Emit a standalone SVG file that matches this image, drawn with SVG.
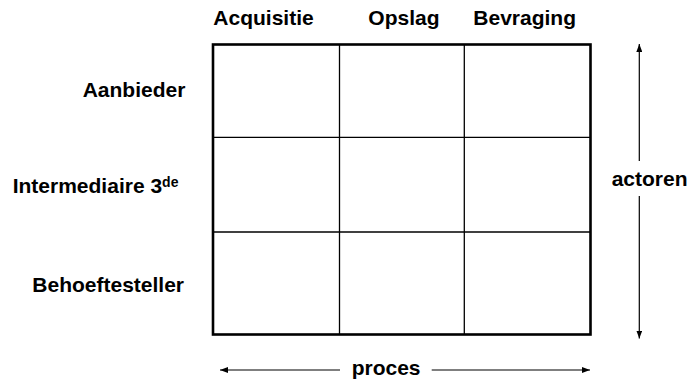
<svg xmlns="http://www.w3.org/2000/svg" width="690" height="382" viewBox="0 0 690 382">
<style>
text{font-family:"Liberation Sans",Arial,sans-serif;font-weight:bold;font-size:21px;fill:#000}
.sup{font-size:14px}
.cell{fill:#fff;stroke:#000;stroke-width:1.3}
.frame{fill:none;stroke:#000;stroke-width:2.6}
.conn{stroke:#000;stroke-width:1.2;fill:none}
</style>
<defs>
<marker id="ah" viewBox="0 0 8 6" refX="8" refY="3" markerWidth="8" markerHeight="6" markerUnits="userSpaceOnUse" orient="auto">
<path d="M0,0 L8,3 L0,6 Z" fill="#000"/>
</marker>
</defs>
<rect width="690" height="382" fill="#fff"/>
<g id="grid">
<line class="cell" x1="339.5" y1="44.5" x2="339.5" y2="334.5"/>
<line class="cell" x1="464.3" y1="44.5" x2="464.3" y2="334.5"/>
<line class="cell" x1="213" y1="137.3" x2="590.5" y2="137.3"/>
<line class="cell" x1="213" y1="232" x2="590.5" y2="232"/>
<rect class="frame" x="213" y="44.5" width="377.5" height="290"/>
</g>
<g id="col-acquisitie"><text x="213.3" y="25">Acquisitie</text></g>
<g id="col-opslag"><text x="368.3" y="25">Opslag</text></g>
<g id="col-bevraging"><text x="473.3" y="25">Bevraging</text></g>
<g id="row-aanbieder"><text x="82.7" y="96.7">Aanbieder</text></g>
<g id="row-intermediaire"><text x="12.7" y="193.3">Intermediaire 3<tspan class="sup" dy="-6.6">de</tspan></text></g>
<g id="row-behoeftesteller"><text x="32.3" y="291.7">Behoeftesteller</text></g>
<g id="label-actoren"><text x="611.7" y="186">actoren</text></g>
<g id="label-proces"><text x="351.7" y="375">proces</text></g>
<g id="connectors">
<line class="conn" x1="639.3" y1="161" x2="639.3" y2="44" marker-end="url(#ah)"/>
<line class="conn" x1="639.3" y1="196" x2="639.3" y2="338.5" marker-end="url(#ah)"/>
<line class="conn" x1="340" y1="370" x2="220" y2="370" marker-end="url(#ah)"/>
<line class="conn" x1="431.7" y1="370" x2="590" y2="370" marker-end="url(#ah)"/>
</g>
</svg>
